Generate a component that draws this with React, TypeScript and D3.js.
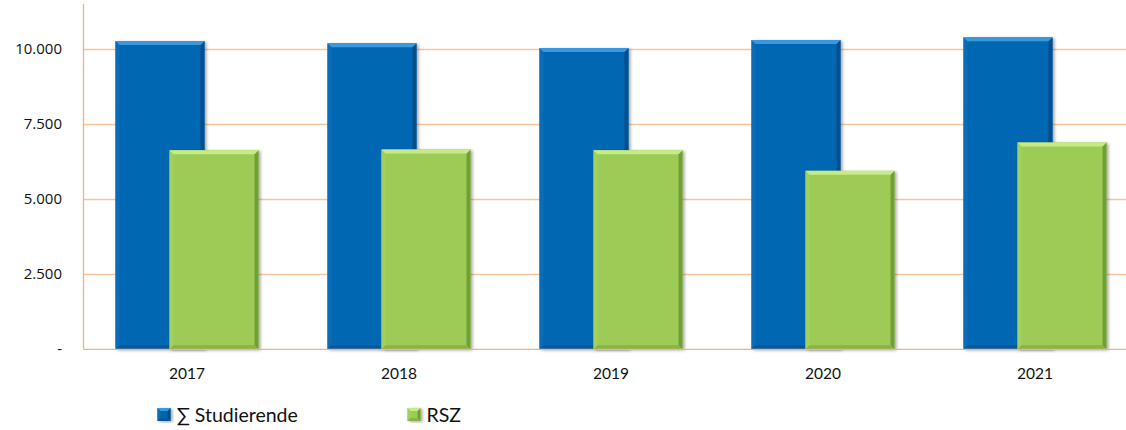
import React from "react";
import * as d3 from "d3";

const years = ["2017", "2018", "2019", "2020", "2021"];
const studierende = [10267, 10190, 10033, 10300, 10390];
const rsz = [6633, 6657, 6633, 5943, 6890];
const yTicks = [0, 2500, 5000, 7500, 10000];
const seriesNames = ["∑ Studierende", "RSZ"];

const W = 1126;
const H = 430;

const fmt = (v: number) => (v === 0 ? "-" : d3.format(",")(v).replace(/,/g, "."));

type Pal = { main: string; top: string; left: string; right: string; bottom: string };
const blue: Pal = { main: "#0567B2", top: "#3A98DE", left: "#0A6CB6", right: "#034F8C", bottom: "#045798" };
const green: Pal = { main: "#9CCC56", top: "#C6EA88", left: "#A1D05C", right: "#729E38", bottom: "#88B347" };

function BevelBar({ x, y, w, h, p, b = 4 }: { x: number; y: number; w: number; h: number; p: Pal; b?: number }) {
  const pts = (arr: number[][]) => arr.map((a) => a.join(",")).join(" ");
  return (
    <g>
      <rect x={x} y={y} width={w} height={h} fill={p.main} filter="url(#shadow)" />
      <polygon points={pts([[x, y], [x + b, y + b], [x + b, y + h - b], [x, y + h]])} fill={p.left} />
      <polygon points={pts([[x + w, y], [x + w, y + h], [x + w - b, y + h - b], [x + w - b, y + b]])} fill={p.right} />
      <polygon points={pts([[x, y + h], [x + b, y + h - b], [x + w - b, y + h - b], [x + w, y + h]])} fill={p.bottom} />
      <polygon points={pts([[x, y], [x + w, y], [x + w - b, y + b], [x + b, y + b]])} fill={p.top} />
    </g>
  );
}

export default function App() {
  const x = d3.scaleBand<string>().domain(years).range([81, 1141]).paddingInner(0).paddingOuter(0);
  const y = d3.scaleLinear().domain([0, 11500]).range([349.3, 4]);
  const barW = 89;
  const off = 27;
  const axisX = 83.5;
  const gridColor = "#F8C59A";
  const axisColor = "#F4B183";

  return (
    <div style={{ position: "absolute", left: 0, top: 0, width: W, height: H, background: "#fff" }}>
      <svg width={W} height={H} style={{ display: "block" }}>
        <defs>
          <filter id="shadow" x="-20%" y="-10%" width="140%" height="120%">
            <feDropShadow dx="2" dy="1" stdDeviation="1.5" floodColor="#000" floodOpacity="0.35" />
          </filter>
        </defs>
        {yTicks.filter((t) => t > 0).map((t) => (
          <line key={t} x1={axisX} x2={W} y1={Math.round(y(t)) + 0.5} y2={Math.round(y(t)) + 0.5} stroke={gridColor} strokeWidth={1.5} />
        ))}
        <line x1={axisX} x2={axisX} y1={4} y2={y(0)} stroke={axisColor} strokeWidth={1.3} />
        {yTicks.map((t) => (
          <text key={t} x={62} y={y(t) + 5} textAnchor="end" fontFamily="'Open Sans', sans-serif" fontSize={15} fill="#111">
            {fmt(t)}
          </text>
        ))}
        {years.map((yr, i) => {
          const c = (x(yr) as number) + x.bandwidth() / 2;
          const bx = c - off - barW / 2;
          const gx = c + off - barW / 2;
          return (
            <g key={yr}>
              <BevelBar x={bx} y={y(studierende[i])} w={barW} h={y(0) - y(studierende[i])} p={blue} />
              <BevelBar x={gx} y={y(rsz[i])} w={barW} h={y(0) - y(rsz[i])} p={green} />
            </g>
          );
        })}
        <line x1={axisX} x2={W} y1={y(0)} y2={y(0)} stroke={axisColor} strokeWidth={1.3} />
        {years.map((yr) => (
          <text key={yr} x={(x(yr) as number) + x.bandwidth() / 2} y={378.5} textAnchor="middle" fontFamily="Lato, sans-serif" fontSize={15.5} fill="#111">
            {yr}
          </text>
        ))}
        {seriesNames.map((n, i) => {
          const lx = i === 0 ? 157.5 : 407.5;
          const p = i === 0 ? blue : green;
          return (
            <g key={n}>
              <BevelBar x={lx} y={408} w={13} h={13} p={p} b={3} />
              <text x={lx + 19} y={421.5} fontFamily="Lato, sans-serif" fontSize={19.5} fill="#111">
                {n}
              </text>
            </g>
          );
        })}
      </svg>
    </div>
  );
}
